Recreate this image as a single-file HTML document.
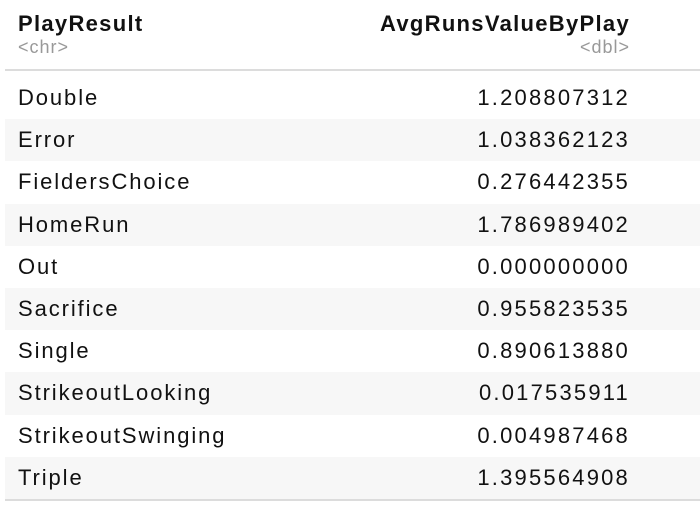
<!DOCTYPE html>
<html><head><meta charset="utf-8"><style>
body{margin:0;width:700px;height:506px;background:#fff;font-family:"Liberation Sans",sans-serif;color:#111;overflow:hidden;position:relative}
.h{position:absolute;font-weight:bold;font-size:22px;letter-spacing:1.3px}
.t{position:absolute;font-size:18px;color:#999;letter-spacing:1px}
.line{position:absolute;left:5px;width:695px;height:2px;background:#dcdcdc}
.row{position:absolute;left:5px;width:695px;height:42.2px}
.row.s{background:#f7f7f7}
.lab{position:absolute;left:13px;top:8px;font-size:22px;letter-spacing:1.9px}
.val{position:absolute;right:70px;top:8px;font-size:22px;letter-spacing:2.2px;text-align:right}
</style></head><body>
<div class="h" style="left:18px;top:11px">PlayResult</div>
<div class="t" style="left:18px;top:37px">&lt;chr&gt;</div>
<div class="h" style="right:70px;top:11px">AvgRunsValueByPlay</div>
<div class="t" style="right:70px;top:37px">&lt;dbl&gt;</div>
<div class="line" style="top:69px"></div>
<div id="rows"></div>
<div class="line" style="top:499px"></div>
<script>
const labels=["Double","Error","FieldersChoice","HomeRun","Out","Sacrifice","Single","StrikeoutLooking","StrikeoutSwinging","Triple"];
const values=["1.208807312","1.038362123","0.276442355","1.786989402","0.000000000","0.955823535","0.890613880","0.017535911","0.004987468","1.395564908"];
const c=document.getElementById('rows');
labels.forEach((l,i)=>{
 const r=document.createElement('div');
 r.className='row'+(i%2?' s':'');
 r.style.top=(77+i*42.2)+'px';
 
 
 const a=document.createElement('div');a.className='lab';a.textContent=l;
 
 
 const b=document.createElement('div');b.className='val';b.textContent=values[i];
 
 
 r.appendChild(a);r.appendChild(b);c.appendChild(r);
});
</script>
</body></html>
